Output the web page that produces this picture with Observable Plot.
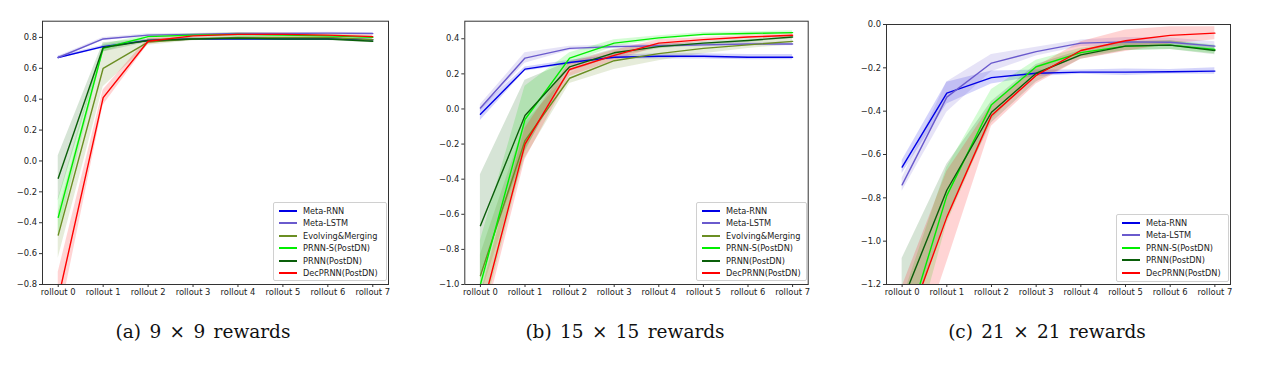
<!DOCTYPE html>
<html>
<head>
<meta charset="utf-8">
<script src="https://cdn.jsdelivr.net/npm/d3@7"></script>
<script src="https://cdn.jsdelivr.net/npm/@observablehq/plot@0.6"></script>
<style>
  body { margin: 0; background: #fff; }
  #wrap { position: relative; width: 1262px; height: 370px; overflow: hidden; background: #fff; }
  .panel { position: absolute; top: 0; }
  .legend { position: absolute; border: 1px solid #d0d0d0; border-radius: 2px; background: rgba(255,255,255,0.85);
            font-family: "DejaVu Sans", sans-serif; font-size: 8.2px; color: #222; box-sizing: border-box; }
  .legend .sw { position: absolute; left: 5px; width: 18px; height: 2px; }
  .legend .lab { position: absolute; left: 29px; line-height: 12px; white-space: nowrap; }
  .caption { position: absolute; top: 320px; font-family: "DejaVu Serif", serif; font-size: 18.5px; word-spacing: 2.5px; color: #111; text-align: center; width: 300px; line-height: 24px; }
</style>
</head>
<body>
<div id="wrap"></div>
<script>
// ---------------- data ----------------
const rollouts = ["rollout 0","rollout 1","rollout 2","rollout 3","rollout 4","rollout 5","rollout 6","rollout 7"];
const seriesNames = ["Meta-RNN","Meta-LSTM","Evolving&Merging","PRNN-S(PostDN)","PRNN(PostDN)","DecPRNN(PostDN)"];
const seriesColors = ["#0000e6","#6a5acd","#6b8e23","#00ee00","#0a5f0a","#ff0000"];
const captions = ["(a) 9 × 9 rewards","(b) 15 × 15 rewards","(c) 21 × 21 rewards"];

// panel (a) 9x9
const metaRNN_a   = [0.67, 0.74, 0.78, 0.79, 0.79, 0.79, 0.79, 0.785];
const metaRNN_a_sd = [0.008, 0.01, 0.008, 0.006, 0.006, 0.006, 0.006, 0.006];
const metaLSTM_a  = [0.67, 0.79, 0.815, 0.82, 0.825, 0.825, 0.828, 0.825];
const metaLSTM_a_sd = [0.008, 0.01, 0.008, 0.006, 0.006, 0.006, 0.006, 0.006];
const evolving_a  = [-0.48, 0.60, 0.77, 0.79, 0.80, 0.80, 0.80, 0.785];
const evolving_a_sd = [0.15, 0.12, 0.02, 0.012, 0.01, 0.01, 0.01, 0.01];
const prnnS_a     = [-0.365, 0.73, 0.805, 0.815, 0.82, 0.815, 0.81, 0.80];
const prnnS_a_sd  = [0.12, 0.025, 0.01, 0.01, 0.01, 0.01, 0.01, 0.01];
const prnn_a      = [-0.112, 0.735, 0.78, 0.79, 0.795, 0.79, 0.79, 0.775];
const prnn_a_sd   = [0.146, 0.03, 0.012, 0.01, 0.01, 0.01, 0.01, 0.01];
const decprnn_a   = [-0.89, 0.41, 0.775, 0.81, 0.82, 0.82, 0.815, 0.805];
const decprnn_a_sd = [0.17, 0.05, 0.02, 0.01, 0.01, 0.01, 0.01, 0.01];

// panel (b) 15x15
const metaRNN_b   = [-0.03, 0.227, 0.265, 0.295, 0.30, 0.30, 0.295, 0.295];
const metaRNN_b_sd = [0.035, 0.012, 0.012, 0.012, 0.015, 0.015, 0.015, 0.015];
const metaLSTM_b  = [0.005, 0.29, 0.345, 0.355, 0.36, 0.365, 0.37, 0.37];
const metaLSTM_b_sd = [0.02, 0.03, 0.012, 0.01, 0.01, 0.01, 0.01, 0.01];
const evolving_b  = [-0.95, -0.18, 0.175, 0.275, 0.315, 0.345, 0.365, 0.385];
const evolving_b_sd = [0.12, 0.1, 0.03, 0.05, 0.04, 0.03, 0.02, 0.02];
const prnnS_b     = [-1.0, -0.06, 0.29, 0.375, 0.405, 0.425, 0.43, 0.435];
const prnnS_b_sd  = [0.25, 0.19, 0.03, 0.02, 0.012, 0.01, 0.01, 0.01];
const prnn_b      = [-0.665, -0.037, 0.24, 0.32, 0.355, 0.375, 0.39, 0.41];
const prnn_b_sd   = [0.29, 0.2, 0.03, 0.02, 0.012, 0.01, 0.01, 0.01];
const decprnn_b   = [-1.18, -0.2, 0.225, 0.305, 0.375, 0.395, 0.41, 0.42];
const decprnn_b_sd = [0.12, 0.09, 0.04, 0.03, 0.02, 0.012, 0.01, 0.01];

// panel (c) 21x21 (no Evolving&Merging)
const metaRNN_c   = [-0.658, -0.317, -0.245, -0.225, -0.22, -0.22, -0.218, -0.215];
const metaRNN_c_sd = [0.03, 0.05, 0.03, 0.015, 0.01, 0.015, 0.01, 0.015];
const metaLSTM_c  = [-0.74, -0.335, -0.178, -0.125, -0.086, -0.08, -0.082, -0.10];
const metaLSTM_c_sd = [0.03, 0.07, 0.04, 0.02, 0.015, 0.02, 0.02, 0.02];
const prnnS_c     = [-1.47, -0.79, -0.37, -0.195, -0.13, -0.10, -0.095, -0.115];
const prnnS_c_sd  = [0.2, 0.13, 0.07, 0.03, 0.02, 0.02, 0.02, 0.02];
const prnn_c      = [-1.28, -0.765, -0.405, -0.225, -0.14, -0.10, -0.095, -0.12];
const prnn_c_sd   = [0.2, 0.12, 0.05, 0.04, 0.02, 0.02, 0.02, 0.02];
const decprnn_c   = [-1.46, -0.889, -0.42, -0.235, -0.12, -0.075, -0.05, -0.04];
const decprnn_c_sd = [0.25, 0.21, 0.05, 0.04, 0.04, 0.05, 0.04, 0.03];

const yTicks_a = [-0.8,-0.6,-0.4,-0.2,0.0,0.2,0.4,0.6,0.8];
const yTicks_b = [-1.0,-0.8,-0.6,-0.4,-0.2,0.0,0.2,0.4];
const yTicks_c = [-1.2,-1.0,-0.8,-0.6,-0.4,-0.2,0.0];

// ---------------- layout ----------------
const panels = [
  { left: 0,   width: 400, mL: 42,   mR: 12,   mT: 20.7, yDomain: [-0.8, 0.905], yTicks: yTicks_a,
    series: [[0, metaRNN_a, metaRNN_a_sd],[1, metaLSTM_a, metaLSTM_a_sd],[2, evolving_a, evolving_a_sd],
             [3, prnnS_a, prnnS_a_sd],[4, prnn_a, prnn_a_sd],[5, decprnn_a, decprnn_a_sd]],
    legend: { left: 273, top: 202, width: 114, height: 79 }, capCenter: 203 },
  { left: 420, width: 400, mL: 44.3, mR: 12.3, mT: 20.7, yDomain: [-1.0, 0.5], yTicks: yTicks_b,
    series: [[0, metaRNN_b, metaRNN_b_sd],[1, metaLSTM_b, metaLSTM_b_sd],[2, evolving_b, evolving_b_sd],
             [3, prnnS_b, prnnS_b_sd],[4, prnn_b, prnn_b_sd],[5, decprnn_b, decprnn_b_sd]],
    legend: { left: 696, top: 202, width: 111, height: 79 }, capCenter: 625 },
  { left: 840, width: 420, mL: 46,   mR: 30,   mT: 24,   yDomain: [-1.2, 0.0], yTicks: yTicks_c,
    series: [[0, metaRNN_c, metaRNN_c_sd],[1, metaLSTM_c, metaLSTM_c_sd],
             [3, prnnS_c, prnnS_c_sd],[4, prnn_c, prnn_c_sd],[5, decprnn_c, decprnn_c_sd]],
    legend: { left: 1116, top: 214, width: 113, height: 68 }, capCenter: 1047 }
];

const wrap = document.getElementById("wrap");
const H = 300, mB = 16;

panels.forEach((p, pi) => {
  const marks = [];
  p.series.forEach(([si, vals, sds]) => {
    const rows = vals.map((v, i) => ({ x: i, y: v, lo: v - sds[i], hi: v + sds[i] }));
    marks.push(Plot.areaY(rows, { x: "x", y1: "lo", y2: "hi", fill: seriesColors[si], fillOpacity: 0.17, clip: true }));
  });
  p.series.forEach(([si, vals]) => {
    const rows = vals.map((v, i) => ({ x: i, y: v }));
    marks.push(Plot.lineY(rows, { x: "x", y: "y", stroke: seriesColors[si], strokeWidth: 1.4, clip: true }));
  });
  marks.push(Plot.frame({ stroke: "#333", strokeWidth: 1 }));
  marks.push(Plot.axisX({ ticks: d3.range(rollouts.length), tickFormat: i => rollouts[i], tickSize: 3, tickPadding: 2, fontSize: 8.4, stroke: "#333", fill: "#222" }));
  marks.push(Plot.axisY({ ticks: p.yTicks, tickFormat: d3.format(".1f"), tickSize: 3, tickPadding: 2.5, fontSize: 8.4, stroke: "#333", fill: "#222" }));

  const chart = Plot.plot({
    width: p.width, height: H,
    marginLeft: p.mL, marginRight: p.mR, marginTop: p.mT, marginBottom: mB,
    x: { domain: [-0.35, 7.35], label: null },
    y: { domain: p.yDomain, label: null },
    style: { fontFamily: "DejaVu Sans, sans-serif", fontSize: "8.4px", background: "transparent", overflow: "visible" },
    marks
  });
  chart.classList.add("panel");
  chart.style.left = p.left + "px";
  wrap.appendChild(chart);

  const lg = document.createElement("div");
  lg.className = "legend";
  Object.assign(lg.style, { left: p.legend.left + "px", top: p.legend.top + "px", width: p.legend.width + "px", height: p.legend.height + "px" });
  p.series.forEach(([si], k) => {
    const rowTop = Math.round(2 + k * 12.4);
    const sw = document.createElement("div");
    sw.className = "sw";
    sw.style.background = seriesColors[si];
    sw.style.top = (rowTop + 5) + "px";
    const lab = document.createElement("div");
    lab.className = "lab";
    lab.style.top = rowTop + "px";
    lab.textContent = seriesNames[si];
    lg.appendChild(sw); lg.appendChild(lab);
  });
  wrap.appendChild(lg);

  const cap = document.createElement("div");
  cap.className = "caption";
  cap.textContent = captions[pi];
  cap.style.left = (p.capCenter - 150) + "px";
  wrap.appendChild(cap);
});
</script>
</body>
</html>
